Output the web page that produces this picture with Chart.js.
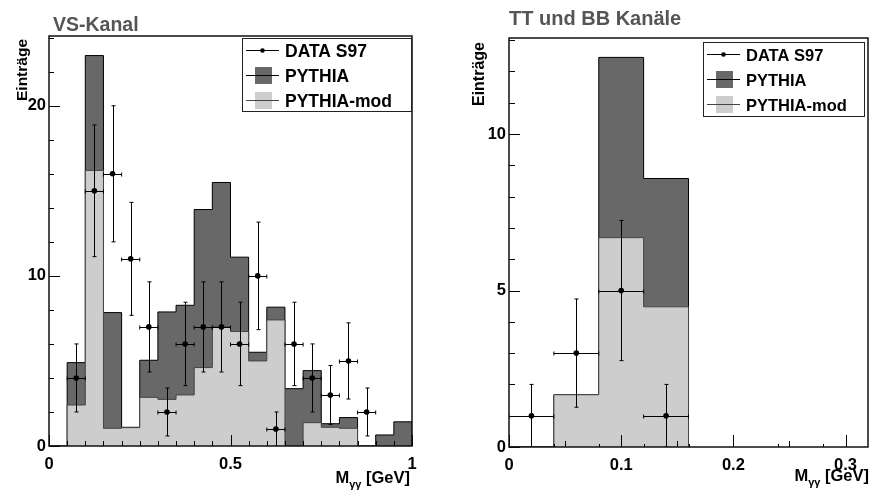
<!DOCTYPE html>
<html>
<head>
<meta charset="utf-8">
<script src="https://cdn.jsdelivr.net/npm/chart.js@4.4.0/dist/chart.umd.min.js"></script>
<style>
  html, body { margin: 0; padding: 0; background: #fff; }
  .panel { position: absolute; top: 0; width: 436px; height: 495px; }
</style>
</head>
<body>
<div class="panel" style="left:0"><canvas id="vs"></canvas></div>
<div class="panel" style="left:436px"><canvas id="tt"></canvas></div>
<script>
// VS-Kanal: 20 bins of 0.05 GeV
var vsBinWidth = 0.05;
var vsPythia    = [0, 4.9, 22.95, 7.84, 1.1, 5.04, 7.88, 8.27, 13.9, 15.49, 11.1, 5.51, 8.16, 3.37, 4.43, 1.31, 1.67, 0, 0.65, 1.42];
var vsPythiaMod = [0, 2.41, 16.2, 1.04, 1.08, 2.86, 2.74, 3.0, 4.61, 7.0, 6.73, 5.0, 7.41, 0, 1.37, 1.1, 1.04, 0, 0, 0];
var vsData      = [0, 4, 15, 16, 11, 7, 2, 6, 7, 7, 6, 10, 1, 6, 4, 3, 5, 2, 0, 0];
var vsDataErr   = [0, 2, 3.87, 4, 3.32, 2.65, 1.41, 2.45, 2.65, 2.65, 2.45, 3.16, 1, 2.45, 2, 1.73, 2.24, 1.41, 0, 0];
var vsXTicks = [0, 0.5, 1];
var vsYTicks = [0, 10, 20];

// TT und BB Kanaele: bins of 0.04 GeV
var ttBinWidth = 0.04;
var ttPythia    = [0, 1.67, 12.45, 8.58];
var ttPythiaMod = [0, 1.67, 6.69, 4.48];
var ttData      = [1, 3, 5, 1];
var ttDataErr   = [1, 1.73, 2.24, 1];
var ttXTicks = [0, 0.1, 0.2, 0.3];
var ttYTicks = [0, 5, 10];

var FONT = "'Liberation Sans', Arial, Helvetica, sans-serif";
var DARK = '#686868', LIGHT = '#cdcdcd';
Chart.defaults.font.family = FONT;

function stepPoints(vals, w) {
  var pts = [{x: 0, y: 0}];
  for (var i = 0; i < vals.length; i++) pts.push({x: i * w, y: vals[i]});
  pts.push({x: vals.length * w, y: vals[vals.length - 1]});
  pts.push({x: vals.length * w, y: 0});
  return pts;
}

function centerPoints(vals, w) {
  return vals.map(function (v, i) { return {x: (i + 0.5) * w, y: v > 0 ? v : null}; });
}

function seq(from, to, step) {
  var out = [];
  for (var v = from; v <= to + 1e-9; v += step) out.push(+v.toFixed(4));
  return out;
}

var rootStyle = {
  id: 'rootStyle',
  afterDatasetsDraw: function (chart, args, o) {
    var ctx = chart.ctx, a = chart.chartArea, xs = chart.scales.x, ys = chart.scales.y;
    ctx.save();

    // error bars of the data points
    chart.data.datasets.forEach(function (ds) {
      if (!ds.errors) return;
      ctx.save();
      ctx.beginPath(); ctx.rect(a.left, a.top, a.right - a.left, a.bottom - a.top); ctx.clip();
      ctx.strokeStyle = '#000'; ctx.lineWidth = 1;
      ds.data.forEach(function (p, i) {
        if (p.y === null) return;
        var e = ds.errors[i], hw = ds.binWidth / 2;
        var px = Math.round(xs.getPixelForValue(p.x)) + 0.5, py = Math.round(ys.getPixelForValue(p.y)) + 0.5;
        var x0 = xs.getPixelForValue(p.x - hw), x1 = xs.getPixelForValue(p.x + hw);
        var y0 = ys.getPixelForValue(p.y - e), y1 = ys.getPixelForValue(p.y + e);
        ctx.beginPath();
        ctx.moveTo(x0, py); ctx.lineTo(x1, py);
        ctx.moveTo(px, y0); ctx.lineTo(px, y1);
        ctx.moveTo(x0, py - 2); ctx.lineTo(x0, py + 2);
        ctx.moveTo(x1, py - 2); ctx.lineTo(x1, py + 2);
        ctx.moveTo(px - 2, y0); ctx.lineTo(px + 2, y0);
        ctx.moveTo(px - 2, y1); ctx.lineTo(px + 2, y1);
        ctx.stroke();
      });
      ctx.restore();
    });

    // ticks drawn inwards, ROOT style
    ctx.strokeStyle = '#000'; ctx.lineWidth = 1;
    ctx.beginPath();
    o.xTickSets.forEach(function (set) {
      set.values.forEach(function (v) {
        var x = Math.round(xs.getPixelForValue(v)) + 0.5;
        ctx.moveTo(x, a.bottom); ctx.lineTo(x, a.bottom - set.len);
      });
    });
    o.yTickSets.forEach(function (set) {
      set.values.forEach(function (v) {
        var y = Math.round(ys.getPixelForValue(v)) + 0.5;
        if (y < a.top + 2) return;
        ctx.moveTo(a.left, y); ctx.lineTo(a.left + set.len, y);
      });
    });
    ctx.stroke();

    // frame
    ctx.lineWidth = 1.5; ctx.strokeStyle = '#111';
    ctx.strokeRect(a.left, a.top, a.right - a.left, a.bottom - a.top);

    // legend
    var L = o.legend;
    var bx = a.right - L.right - L.width, by = a.top + L.top;
    ctx.fillStyle = '#fff';
    ctx.fillRect(bx, by, L.width, L.height);
    ctx.lineWidth = 1; ctx.strokeStyle = '#222';
    ctx.strokeRect(bx + 0.5, by + 0.5, L.width, L.height);
    ctx.font = 'bold ' + L.fontSize + 'px ' + FONT;
    ctx.textAlign = 'left'; ctx.textBaseline = 'alphabetic';
    var items = chart.data.datasets.slice().sort(function (p, q) { return p.legendRow - q.legendRow; });
    items.forEach(function (ds, i) {
      var cy = Math.round(by + 12 + i * 24.8) + 0.5;
      if (ds.errors) {
        ctx.strokeStyle = '#000'; ctx.lineWidth = 1;
        ctx.beginPath(); ctx.moveTo(bx + 4, cy); ctx.lineTo(bx + 37, cy); ctx.stroke();
        ctx.fillStyle = '#000';
        ctx.beginPath(); ctx.arc(bx + 20.5, cy, 2.3, 0, Math.PI * 2); ctx.fill();
      } else {
        ctx.fillStyle = ds.backgroundColor;
        ctx.fillRect(bx + 13, cy - 8.5, 17, 17);
        ctx.strokeStyle = ds.borderColor; ctx.lineWidth = 1;
        ctx.beginPath(); ctx.moveTo(bx + 4, cy); ctx.lineTo(bx + 37, cy); ctx.stroke();
      }
      ctx.fillStyle = '#000';
      ctx.fillText(ds.label, bx + 43, cy + 6);
    });

    // panel title
    ctx.fillStyle = '#555';
    ctx.font = 'bold ' + o.title.size + 'px ' + FONT;
    ctx.fillText(o.title.text, o.title.x, o.title.y);

    // y axis title, aligned to the top of the frame
    ctx.save();
    ctx.translate(o.yTitle.x, a.top + o.yTitle.dy);
    ctx.rotate(-Math.PI / 2);
    ctx.fillStyle = '#000';
    ctx.font = 'bold ' + o.yTitle.size + 'px ' + FONT;
    ctx.textAlign = 'right';
    ctx.fillText('Einträge', 0, 0);
    ctx.restore();

    // x axis title M_yy [GeV], right aligned
    var big = 'bold 16.5px ' + FONT, small = 'bold 11px ' + FONT;
    ctx.fillStyle = '#000';
    ctx.font = big; var wG = ctx.measureText(' [GeV]').width, wM = ctx.measureText('M').width;
    ctx.font = small; var wS = ctx.measureText('γγ').width;
    var xr = o.xTitle.right, yb = o.xTitle.y;
    ctx.textAlign = 'left';
    ctx.font = big;
    ctx.fillText('M', xr - wG - wS - wM, yb);
    ctx.fillText(' [GeV]', xr - wG, yb);
    ctx.font = small;
    ctx.fillText('γγ', xr - wG - wS, yb + 5);

    ctx.restore();
  }
};

function makeChart(id, cfg) {
  var tickFont = {size: 16.5, weight: 'bold'};
  return new Chart(document.getElementById(id), {
    type: 'line',
    data: {
      datasets: [
        {
          label: 'DATA S97', order: 0, legendRow: 0,
          data: centerPoints(cfg.data, cfg.binWidth),
          errors: cfg.dataErr, binWidth: cfg.binWidth,
          showLine: false, pointRadius: 2.8, pointBackgroundColor: '#000', pointBorderWidth: 0
        },
        {
          label: 'PYTHIA-mod', order: 1, legendRow: 2,
          data: stepPoints(cfg.pythiaMod, cfg.binWidth),
          stepped: 'before', fill: 'origin', pointRadius: 0,
          backgroundColor: LIGHT, borderColor: '#444', borderWidth: 1
        },
        {
          label: 'PYTHIA', order: 2, legendRow: 1,
          data: stepPoints(cfg.pythia, cfg.binWidth),
          stepped: 'before', fill: 'origin', pointRadius: 0,
          backgroundColor: DARK, borderColor: '#000', borderWidth: 1
        }
      ]
    },
    options: {
      responsive: true,
      maintainAspectRatio: false,
      animation: false,
      events: [],
      layout: {padding: cfg.padding},
      scales: {
        x: {
          type: 'linear', min: 0, max: cfg.xMax,
          grid: {display: false, drawTicks: false}, border: {display: false},
          ticks: {font: tickFont, color: '#000', padding: 9, maxRotation: 0, autoSkip: false,
                  callback: function (v) { return String(v); }},
          afterBuildTicks: function (s) { s.ticks = cfg.xTicks.map(function (v) { return {value: v}; }); },
          afterFit: function (s) { s.height = cfg.xAxisHeight; }
        },
        y: {
          min: 0, max: cfg.yMax,
          grid: {display: false, drawTicks: false}, border: {display: false},
          ticks: {font: tickFont, color: '#000', padding: 3,
                  callback: function (v) { return String(v); }},
          afterBuildTicks: function (s) { s.ticks = cfg.yTicks.map(function (v) { return {value: v}; }); },
          afterFit: function (s) { s.width = cfg.yAxisWidth; }
        }
      },
      plugins: {
        legend: {display: false},
        tooltip: {enabled: false},
        rootStyle: cfg.style
      }
    },
    plugins: [rootStyle]
  });
}

makeChart('vs', {
  binWidth: vsBinWidth, pythia: vsPythia, pythiaMod: vsPythiaMod, data: vsData, dataErr: vsDataErr,
  xTicks: vsXTicks, yTicks: vsYTicks, xMax: 1, yMax: 24.1,
  padding: {left: 0, top: 36, right: 24, bottom: 0}, yAxisWidth: 49, xAxisHeight: 49,
  style: {
    xTickSets: [{values: seq(0, 1, 0.5), len: 11}, {values: seq(0.05, 0.95, 0.05), len: 5}],
    yTickSets: [{values: seq(0, 20, 10), len: 11}, {values: seq(2, 24, 2), len: 5}],
    legend: {right: 1, top: 2, width: 169, height: 73, fontSize: 17.5},
    title: {text: 'VS-Kanal', x: 53, y: 31, size: 19.5},
    yTitle: {x: 27, dy: 3, size: 15.5},
    xTitle: {right: 410, y: 483}
  }
});

makeChart('tt', {
  binWidth: ttBinWidth, pythia: ttPythia, pythiaMod: ttPythiaMod, data: ttData, dataErr: ttDataErr,
  xTicks: ttXTicks, yTicks: ttYTicks, xMax: 0.32, yMax: 13.07,
  padding: {left: 0, top: 38, right: 1, bottom: 0}, yAxisWidth: 73, xAxisHeight: 48,
  style: {
    xTickSets: [{values: seq(0, 0.3, 0.1), len: 12}, {values: [0.05, 0.15, 0.25], len: 6},
                {values: [0.04, 0.08, 0.12, 0.16, 0.24, 0.28], len: 3}],
    yTickSets: [{values: seq(0, 10, 5), len: 11}, {values: seq(1, 13, 1), len: 6}],
    legend: {right: 4, top: 4, width: 161, height: 74, fontSize: 16.5},
    title: {text: 'TT und BB Kanäle', x: 73, y: 25, size: 20},
    yTitle: {x: 48, dy: 4, size: 16},
    xTitle: {right: 433, y: 481}
  }
});
</script>
</body>
</html>
